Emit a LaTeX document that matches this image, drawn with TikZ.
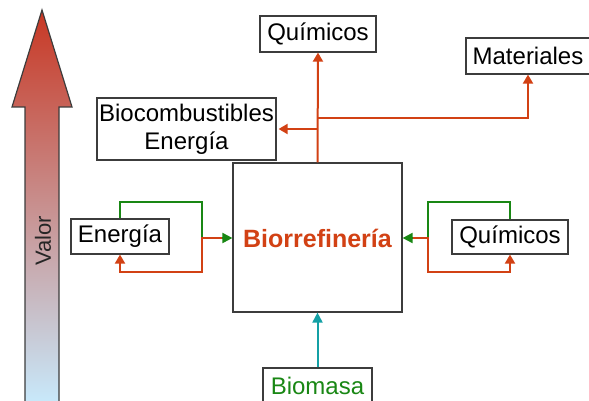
\documentclass[tikz,border=0pt]{standalone}
\usepackage{fontspec}
\setmainfont{Liberation Sans}
\usetikzlibrary{arrows.meta}
\definecolor{flecha}{RGB}{210,65,20}
\definecolor{verde}{RGB}{25,135,20}
\definecolor{turquesa}{RGB}{20,160,165}
\definecolor{borde}{RGB}{60,60,60}
\tikzset{
  caja/.style={draw=borde, line width=0.6pt, fill=white, inner sep=0pt, align=center, font=\fontsize{12}{14}\selectfont},
  rojo/.style={draw=flecha, line width=1pt},
  rojoflecha/.style={rojo, -{Triangle[length=4.5pt,width=5pt]}},
  verdeflecha/.style={draw=verde, line width=1pt, -{Triangle[length=5pt,width=5pt]}}
}

\begin{document}
\begin{tikzpicture}[x=0.5pt, y=-0.5pt]
		%%%%% START %%%%%
		\useasboundingbox (0, 0) rectangle (589, 401);
		
		% flecha de valor
		\shade[top color={rgb,255:red,200;green,55;blue,35}, middle color={rgb,255:red,212;green,170;blue,182}, bottom color={rgb,255:red,200;green,232;blue,250}]
			(25, 401) -- (25, 107) -- (12, 107) -- (42, 10) -- (72, 107) -- (59, 107) -- (59, 401) -- cycle;
		\draw[line width=0.6pt, color=borde] (25, 401) -- (25, 107) -- (12, 107) -- (42, 10) -- (72, 107) -- (59, 107) -- (59, 401);
		\node[rotate=90, color=black!85, font=\fontsize{11}{12}\selectfont] (valor) at (43, 241) {Valor};
		
		% cajas
		\node[caja, minimum width=84.5pt, minimum height=74.5pt] (bio) at (317.5, 237.5) {};
		\node[font=\bfseries\fontsize{12.5}{14}\selectfont, color=flecha] (biotxt) at (317.5, 238) {Biorrefinería};
		
		\node[caja, minimum width=58pt, minimum height=18pt] (quimA) at (318, 34) {Químicos};
		\node[caja, minimum width=62pt, minimum height=18pt] (mat) at (528, 56) {Materiales};
		\node[caja, minimum width=89.5pt, minimum height=31pt] (comb) at (186.5, 129) {Biocombustibles\\Energía};
		\node[caja, minimum width=49pt, minimum height=17.5pt] (ener) at (120, 236.5) {Energía};
		\node[caja, minimum width=58pt, minimum height=17pt] (quimB) at (510, 237) {Químicos};
		\node[caja, minimum width=54.5pt, minimum height=18pt, text=verde] (biom) at (317.5, 386) {Biomasa};
		
		% salidas
		\coordinate (rama) at (317.5, 118);
		\draw[rojoflecha] (bio.north) -- (quimA.south);
		\draw[rojoflecha] (bio.north |- comb.east) -- ([xshift=1pt]comb.east);
		\draw[rojoflecha] (rama) -| (mat.south);
		
		% entrada
		\draw[draw=turquesa, line width=1pt, -{Triangle[length=5pt,width=5pt]}] (biom.north) -- (bio.south);
		
		% lazo izquierdo
		\coordinate (lazoL) at (202, 238);
		\draw[verdeflecha] (ener.north) |- (lazoL |- 0, 202) -- (lazoL) -- (bio.west |- lazoL);
		\draw[rojoflecha, shorten <=5pt] (bio.west |- lazoL) -- (lazoL) |- (ener.south |- 0, 272) -- (ener.south);
		
		% lazo derecho
		\coordinate (lazoR) at (428, 238);
		\draw[verdeflecha] (quimB.north) |- (lazoR |- 0, 202) -- (lazoR) -- (bio.east |- lazoR);
		\draw[rojoflecha, shorten <=5pt] (bio.east |- lazoR) -- (lazoR) |- (quimB.south |- 0, 272) -- (quimB.south);
		
		%%%%% END %%%%%
\end{tikzpicture}
\end{document}
